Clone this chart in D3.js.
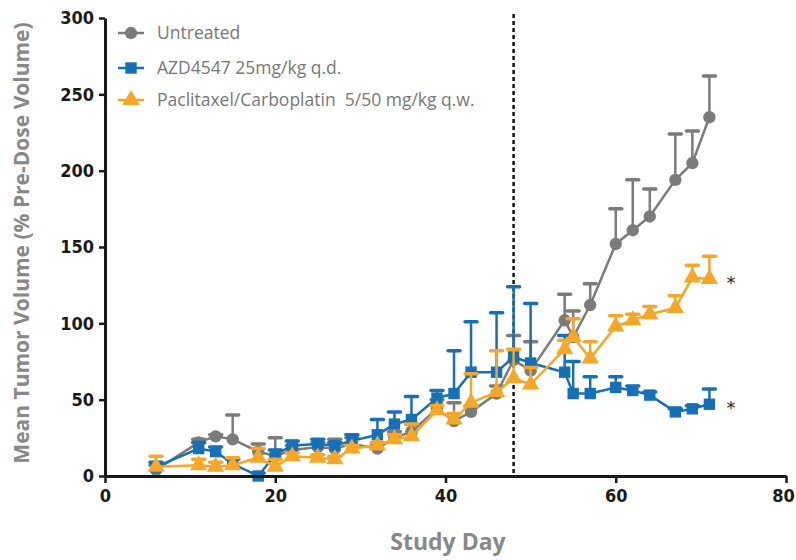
<!DOCTYPE html>
<html>
<head>
<meta charset="utf-8">
<script src="https://cdn.jsdelivr.net/npm/d3@7"></script>
<style>
  body { margin: 0; background: #fff; }
  svg { display: block; }
  .tick text { font-family: "Liberation Sans Narrow", "DejaVu Sans Condensed", sans-serif; font-weight: bold; font-size: 18px; fill: #1a1a1a; }
</style>
</head>
<body>
<div id="chart"></div>
<script>
const width = 796
const height = 560

const days = [6, 11, 13, 15, 18, 20, 22, 25, 27, 29, 32, 34, 36, 39, 41, 43, 46, 48, 50, 54, 55, 57, 60, 62, 64, 67, 69, 71]

const untreated = [4, 22, 26, 24, 16, 13, 17, 19, 18, 21, 18, 25, 29, 44, 36, 42, 54, 76, 69, 102, 91, 112, 152, 161, 170, 194, 205, 235]
const untreatedErr = [3, 2, 1, 16, 5, 12, 3, 3, 6, 4, 3, 4, 5, 6, 12, 4, 5, 16, 19, 17, 17, 14, 23, 33, 18, 30, 21, 27]

const azd = [6, 18, 16, 8, 0, 14, 20, 21, 20, 23, 27, 34, 37, 51, 54, 68, 68, 78, 74, 68, 54, 54, 58, 56, 53, 42, 44, 47]
const azdErr = [3, 4, 3, 3, 2, 3, 3, 3, 2, 4, 10, 8, 15, 5, 28, 33, 39, 46, 39, 24, 21, 11, 7, 3, 2, 2, 2, 10]

const pacli = [6, 7, 6, 7, 12, 6, 13, 12, 11, 18, 20, 24, 26, 43, 37, 48, 55, 64, 60, 83, 91, 77, 98, 102, 106, 110, 130, 129]
const pacliErr = [7, 4, 3, 5, 6, 5, 2, 2, 2, 2, 2, 3, 8, 3, 4, 19, 27, 19, 11, 6, 12, 11, 7, 4, 5, 8, 8, 15]

const xTicks = [0, 20, 40, 60, 80]
const yTicks = [0, 50, 100, 150, 200, 250, 300]
const doseDay = 48

const series = [
  {name: "Untreated", values: untreated, err: untreatedErr, color: "#7b7b7b", shape: d3.symbolCircle, size: 120, star: false},
  {name: "AZD4547 25mg/kg q.d.", values: azd, err: azdErr, color: "#1570b8", shape: d3.symbolSquare, size: 130, star: true},
  {name: "Paclitaxel/Carboplatin  5/50 mg/kg q.w.", values: pacli, err: pacliErr, color: "#f7a626", shape: d3.symbolTriangle, size: 130, star: true}
]

const x = d3.scaleLinear().domain([0, 80]).range([105, 786])
const y = d3.scaleLinear().domain([0, 300]).range([476, 18])

const svg = d3.select("#chart").append("svg")
  .attr("width", width)
  .attr("height", height)

// dotted line at end of dosing
svg.append("line")
  .attr("x1", x(doseDay)).attr("x2", x(doseDay))
  .attr("y1", 14).attr("y2", y(0))
  .attr("stroke", "#111")
  .attr("stroke-width", 2.5)
  .attr("stroke-dasharray", "4,3")

series.forEach(s => {
  const pts = days.map((d, i) => ({day: d, v: s.values[i], e: s.err[i]}))
  const g = svg.append("g")

  const bars = g.selectAll("g.err").data(pts).join("g").attr("class", "err")
  bars.append("line")
    .attr("x1", d => x(d.day)).attr("x2", d => x(d.day))
    .attr("y1", d => y(d.v)).attr("y2", d => y(d.v + d.e))
    .attr("stroke", s.color).attr("stroke-width", 2.5)
  bars.append("line")
    .attr("x1", d => x(d.day) - 6).attr("x2", d => x(d.day) + 6)
    .attr("y1", d => y(d.v + d.e)).attr("y2", d => y(d.v + d.e))
    .attr("stroke", s.color).attr("stroke-width", 3.5)
    .attr("stroke-linecap", "round")

  g.append("path")
    .datum(pts)
    .attr("fill", "none")
    .attr("stroke", s.color)
    .attr("stroke-width", 2.5)
    .attr("d", d3.line().x(d => x(d.day)).y(d => y(d.v)))

  g.selectAll("path.mark").data(pts).join("path")
    .attr("class", "mark")
    .attr("transform", d => `translate(${x(d.day)},${y(d.v)})`)
    .attr("d", d3.symbol().type(s.shape).size(s.size))
    .attr("fill", s.color)

  if (s.star) {
    const last = pts[pts.length - 1]
    svg.append("text")
      .attr("x", x(last.day) + 17)
      .attr("y", y(last.v) + 10)
      .attr("font-family", "DejaVu Sans, sans-serif")
      .attr("font-size", 18)
      .attr("fill", "#222")
      .text("*")
  }
})

// axes
const yAxis = svg.append("g")
  .attr("transform", `translate(${x(0)},0)`)
  .call(d3.axisLeft(y).tickValues(yTicks).tickSize(6).tickSizeOuter(0).tickPadding(5))
const xAxis = svg.append("g")
  .attr("transform", `translate(0,${y(0)})`)
  .call(d3.axisBottom(x).tickValues(xTicks).tickSize(7).tickSizeOuter(0).tickPadding(6))

// last label sits on the page edge
xAxis.selectAll(".tick text").filter(d => d === 80).attr("dx", -3)

svg.selectAll(".domain").attr("stroke", "#1a1a1a").attr("stroke-width", 3)
svg.selectAll(".tick line").attr("stroke", "#1a1a1a").attr("stroke-width", 2.5)

// legend
const legend = svg.append("g")
series.forEach((s, i) => {
  const ly = [33, 68, 100][i]
  legend.append("line")
    .attr("x1", 118).attr("x2", 144).attr("y1", ly).attr("y2", ly)
    .attr("stroke", s.color).attr("stroke-width", 2.5)
  legend.append("path")
    .attr("transform", `translate(131,${ly})`)
    .attr("d", d3.symbol().type(s.shape).size(s.size))
    .attr("fill", s.color)
  legend.append("text")
    .attr("x", 157).attr("y", ly)
    .attr("dy", "0.35em")
    .attr("font-family", "Open Sans, sans-serif")
    .attr("font-size", 17.5)
    .attr("fill", "#777")
    .style("white-space", "pre")
    .text(s.name)
})

// axis titles
svg.append("text")
  .attr("transform", "translate(29,243) rotate(-90)")
  .attr("text-anchor", "middle")
  .attr("font-family", "Open Sans, sans-serif")
  .attr("font-weight", 700)
  .attr("font-size", 21)
  .attr("fill", "#888")
  .text("Mean Tumor Volume (% Pre-Dose Volume)")

svg.append("text")
  .attr("x", 448).attr("y", 550)
  .attr("text-anchor", "middle")
  .attr("font-family", "Open Sans, sans-serif")
  .attr("font-weight", 700)
  .attr("font-size", 23)
  .attr("fill", "#888")
  .text("Study Day")
</script>
</body>
</html>
